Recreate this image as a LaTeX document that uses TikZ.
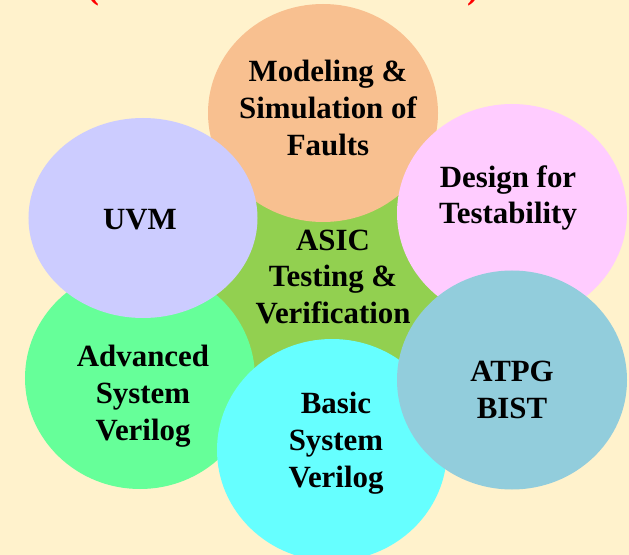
\documentclass[tikz,border=0pt]{standalone}
\usepackage{fontspec}
\setmainfont{Liberation Serif}
\usetikzlibrary{shapes.geometric}

\definecolor{cream}{HTML}{FFF2CC}
\definecolor{asicgreen}{HTML}{92D050}
\definecolor{faultorange}{HTML}{F8C090}
\definecolor{uvmblue}{HTML}{CCCCFF}
\definecolor{dftpink}{HTML}{FFCCFF}
\definecolor{advgreen}{HTML}{66FF99}
\definecolor{basiccyan}{HTML}{66FFFF}
\definecolor{atpgblue}{HTML}{92CDDC}

\begin{document}
\begin{tikzpicture}[x=1bp, y=-1bp]
		\fill[cream] (0,0) rectangle (629,555);
		\useasboundingbox (0,0) rectangle (629,555);

		% header, mostly cut off
		\node[text=red, font=\bfseries\fontsize{36}{40}\selectfont, anchor=base] (L) at (93,-1) {(};
		\node[text=red, font=\bfseries\fontsize{36}{40}\selectfont, anchor=base] (R) at (473,-1) {)};

		\begin{scope}[every node/.style={ellipse, inner sep=0pt, minimum width=230bp}]
			\node[fill=asicgreen, minimum width=250bp, minimum height=240bp] (A) at (333,280) {};
			\node[fill=faultorange, minimum height=218bp] (B) at (323,113) {};
			\node[fill=advgreen, minimum height=222bp] (C) at (140,378) {};
			\node[fill=uvmblue, minimum width=229bp, minimum height=200bp] (D) at (143,218) {};
			\node[fill=dftpink, minimum height=218bp] (E) at (512,213) {};
			\node[fill=basiccyan, minimum height=222bp] (F) at (332,450) {};
			\node[fill=atpgblue, minimum height=219bp] (G) at (512,380) {};
		\end{scope}

		\begin{scope}[every node/.style={align=center, font=\bfseries\fontsize{31}{37}\selectfont}]
			\node (a) at (333,277) {ASIC\\Testing \&\\Verification};
			\node (b) at (328,108) {Modeling \&\\Simulation of\\Faults};
			\node (c) at (143,396) {Advanced\\System\\Verilog};
			\node (d) at (140,220) {UVM};
			\node (e) at (508,198) {Design for\\Testability};
			\node (f) at (336,443) {Basic\\System\\Verilog};
			\node (g) at (512,390) {ATPG\\BIST};
		\end{scope}
		\end{tikzpicture}
\end{document}
